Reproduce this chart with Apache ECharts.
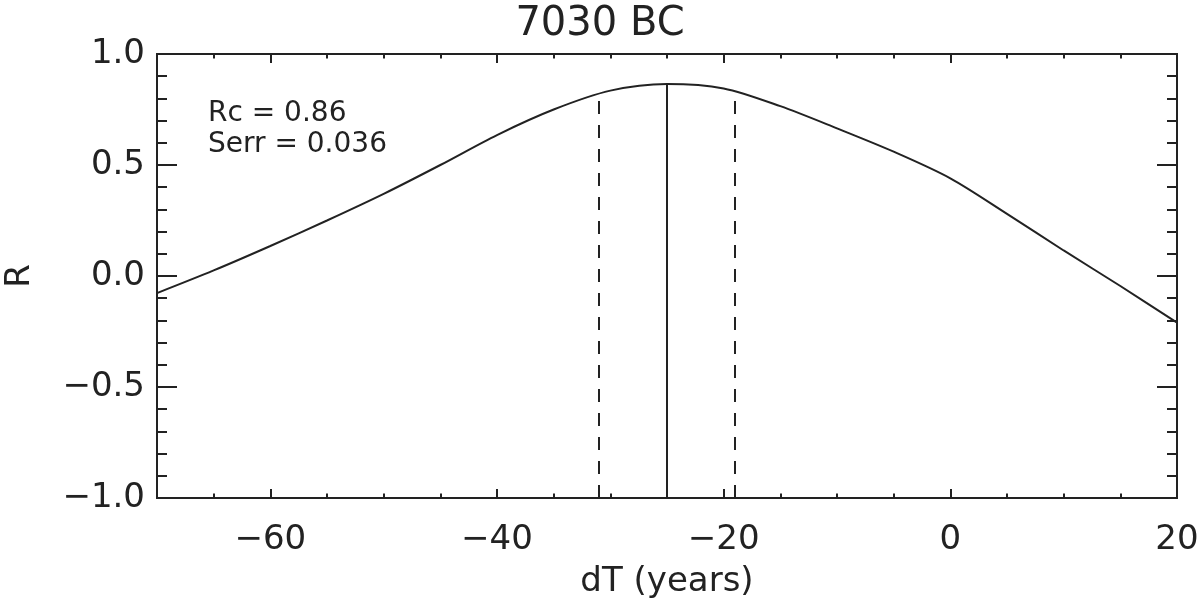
<!DOCTYPE html>
<html>
<head>
<meta charset="utf-8">
<script src="https://cdn.jsdelivr.net/npm/echarts@6/dist/echarts.min.js"></script>
<style>html,body{margin:0;padding:0;background:#fff}#chart{width:1200px;height:608px}</style>
</head>
<body>
<div id="chart"></div>
<script>
// ---- data ----
const titleText = '7030 BC';
const dT = [-70, -65, -60, -55, -50, -45, -40, -35, -30, -25, -20, -15, -10, -5, 0, 5, 10, 15, 20];
const R  = [-0.077, 0.025, 0.135, 0.25, 0.37, 0.50, 0.635, 0.75, 0.835, 0.865, 0.845, 0.765, 0.665, 0.56, 0.44, 0.28, 0.115, -0.045, -0.21];
const bestLag = [-25];
const bestLagTop = [0.865];
const errLags = [-31, -19];
const errLagTops = [0.825, 0.83];
const annotations = ['Rc = 0.86', 'Serr = 0.036'];
const xRange = [-70, 20];
const yRange = [-1, 1];

const FONT = 'DejaVu Sans';
const INK = '#222';
const fmtMinus = s => String(s).replace('-', '\u2212');

function vline(x, top, type) {
  return [
    { coord: [x, yRange[0]], lineStyle: { type: type, color: INK, width: 2 } },
    { coord: [x, top] }
  ];
}
const lines = [];
bestLag.forEach((x, i) => lines.push(vline(x, bestLagTop[i], 'solid')));
errLags.forEach((x, i) => lines.push(vline(x, errLagTops[i], [13, 11])));

const axisLine = { show: true, onZero: false, lineStyle: { color: INK, width: 2 } };
function xAx(pos, major, showLabels) {
  const ax = {
    type: 'value', position: pos, min: xRange[0], max: xRange[1],
    axisLine: axisLine,
    splitLine: { show: false },
    axisTick: { show: true, inside: true, length: major ? 9 : 4.5, lineStyle: { color: INK, width: 2 } },
    axisLabel: { show: false }
  };
  if (!major) { ax.interval = 5; }
  else { ax.splitNumber = 5; }
  if (showLabels) {
    ax.axisLabel = {
      show: true, margin: 25, fontFamily: FONT, fontSize: 34, color: INK,
      formatter: v => (v % 20 === 0 ? fmtMinus(v) : '')
    };
    ax.name = 'dT (years)';
    ax.nameLocation = 'middle';
    ax.nameGap = 67;
    ax.nameTextStyle = { fontFamily: FONT, fontSize: 34, color: INK };
  }
  return ax;
}
function yAx(pos, showLabels) {
  const ax = {
    type: 'value', position: pos, min: yRange[0], max: yRange[1], interval: 0.5,
    axisLine: axisLine,
    splitLine: { show: false },
    axisTick: { show: true, inside: true, length: 20, lineStyle: { color: INK, width: 2 } },
    minorTick: { show: true, splitNumber: 5, length: 10, lineStyle: { color: INK, width: 2 } },
    axisLabel: { show: false }
  };
  if (showLabels) {
    ax.axisLabel = {
      show: true, margin: 12, fontFamily: FONT, fontSize: 34, color: INK,
      formatter: v => fmtMinus(v.toFixed(1))
    };
    ax.name = 'R';
    ax.nameLocation = 'middle';
    ax.nameGap = 120;
    ax.nameTextStyle = { fontFamily: FONT, fontSize: 34, color: INK };
  }
  return ax;
}

const chart = echarts.init(document.getElementById('chart'), null, { renderer: 'canvas' });
chart.setOption({
  animation: false,
  backgroundColor: '#fff',
  title: {
    text: titleText, left: 'center', top: 0,
    textStyle: { fontFamily: FONT, fontSize: 40, fontWeight: 'normal', color: INK }
  },
  grid: { left: 157, right: 23, top: 54, bottom: 110, outerBoundsMode: 'none', containLabel: false },
  xAxis: [xAx('bottom', true, true), xAx('bottom', false, false), xAx('top', true, false), xAx('top', false, false)],
  yAxis: [yAx('left', true), yAx('right', false)],
  graphic: annotations.map((t, i) => ({
    type: 'text', left: 208, top: 100 + i * 31,
    style: { text: t, fontFamily: FONT, fontSize: 28, fill: INK }
  })),
  series: [{
    type: 'line', xAxisIndex: 0, yAxisIndex: 0,
    data: dT.map((x, i) => [x, R[i]]),
    smooth: 0.3, symbol: 'none',
    lineStyle: { color: INK, width: 2 },
    markLine: { silent: true, symbol: 'none', label: { show: false }, data: lines }
  }]
});
</script>
</body>
</html>
